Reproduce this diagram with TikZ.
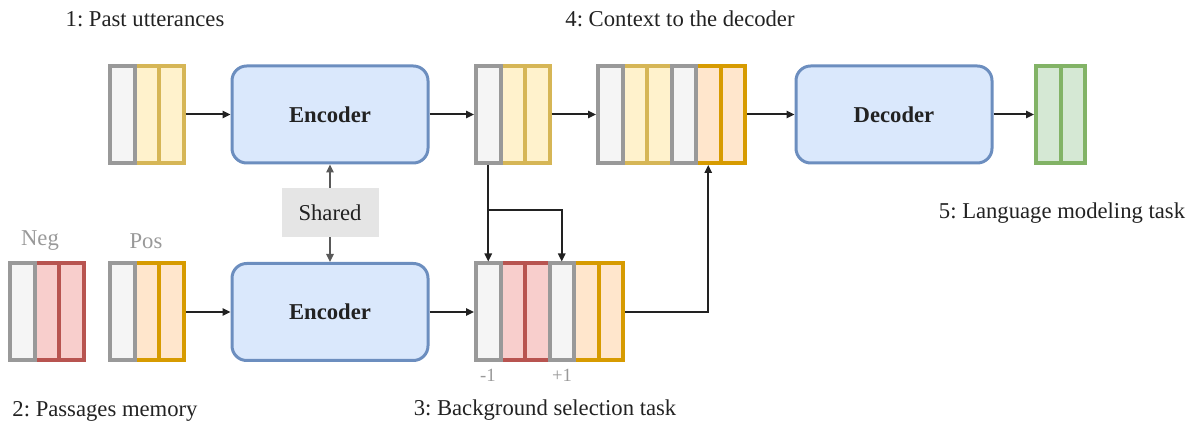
\documentclass[tikz,border=0pt]{standalone}
\usepackage{xcolor}
\usepackage{fontspec}
\setmainfont{Liberation Serif}
\usepackage{tikz}
\usetikzlibrary{arrows.meta,positioning,calc}
\definecolor{grayline}{RGB}{153,153,153}
\definecolor{grayfill}{RGB}{245,245,245}
\definecolor{yellowline}{RGB}{214,182,86}
\definecolor{yellowfill}{RGB}{255,242,204}
\definecolor{orangeline}{RGB}{215,155,0}
\definecolor{orangefill}{RGB}{255,230,204}
\definecolor{redline}{RGB}{184,84,80}
\definecolor{redfill}{RGB}{248,206,204}
\definecolor{greenline}{RGB}{130,179,102}
\definecolor{greenfill}{RGB}{213,232,212}
\definecolor{blueline}{RGB}{108,142,191}
\definecolor{bluefill}{RGB}{218,232,252}
\definecolor{textdark}{RGB}{34,34,34}
\definecolor{textlight}{RGB}{153,153,153}
\frenchspacing

\begin{document}
\begin{tikzpicture}[x=0.75pt, y=-0.75pt,
    font=\fontsize{17pt}{20pt}\selectfont, text=textdark,
    cell/.style={draw=#1line, fill=#1fill, line width=3pt, inner sep=0pt,
                 minimum width=18.375pt, minimum height=72.75pt},
    coder/.style={draw=blueline, fill=bluefill, line width=2.25pt,
                  rounded corners=11pt, minimum width=147pt,
                  minimum height=72.75pt, font=\fontsize{17pt}{20pt}\selectfont\bfseries},
    shared/.style={fill=black!10, minimum width=72.75pt, minimum height=36.75pt},
    arr/.style={draw=textdark, line width=1.5pt, -{Triangle[length=6pt,width=5.5pt]}},
    sharr/.style={draw=black!65, line width=1.2pt, -{Triangle[length=6pt,width=5.5pt]}},
    tag/.style={text=textlight},
    idx/.style={text=textlight, font=\fontsize{14pt}{16pt}\selectfont}]
  \useasboundingbox (0,0) rectangle (1192,423);

  % Top row cells (gray ones last so their borders stay on top)
  \foreach \i/\c in {2/yellow,3/yellow,1/gray}
    \node[cell=\c] (pu\i) at ({97.75+24.5*\i}, 114.5) {};
  \foreach \i/\c in {2/yellow,3/yellow,1/gray}
    \node[cell=\c] (eo\i) at ({463.75+24.5*\i}, 114.5) {};
  \foreach \i/\c in {2/yellow,3/yellow,5/orange,6/orange,1/gray,4/gray}
    \node[cell=\c] (cx\i) at ({585.75+24.5*\i}, 114.5) {};
  \foreach \i/\c in {1/green,2/green}
    \node[cell=\c] (lm\i) at ({1023.75+24.5*\i}, 114.5) {};

  % Bottom row cells
  \foreach \i/\c in {2/red,3/red,1/gray}
    \node[cell=\c] (neg\i) at ({-2.25+24.5*\i}, 312) {};
  \foreach \i/\c in {2/orange,3/orange,1/gray}
    \node[cell=\c] (pos\i) at ({97.75+24.5*\i}, 312) {};
  \foreach \i/\c in {2/red,3/red,5/orange,6/orange,1/gray,4/gray}
    \node[cell=\c] (bg\i) at ({463.75+24.5*\i}, 312) {};

  % Encoders and decoder
  \node[coder] (encA) at (330, 114.5) {Encoder};
  \node[coder] (encB) at (330, 312) {Encoder};
  \node[coder] (dec) at (894, 114.5) {Decoder};
  \node[shared] (shr) at (330, 212.5) {Shared};

  % Data flow
  \draw[arr] (pu3) -- (encA);
  \draw[arr] (encA) -- (eo1);
  \draw[arr] (eo3) -- (cx1);
  \draw[arr] (cx6) -- (dec);
  \draw[arr] (dec) -- (lm1);
  \draw[arr] (pos3) -- (encB);
  \draw[arr] (encB) -- (bg1);
  \draw[arr] (eo1) -- (bg1);
  \coordinate (split) at (488.5, 210);
  \draw[arr] (split) -| (bg4);
  \draw[arr] (bg6) -| (cx5);
  \draw[sharr] (shr) -- (encA);
  \draw[sharr] (shr) -- (encB);

  % Labels
  \node (t1) at (145, 19) {1: Past utterances};
  \node (t2) at (105, 411) {2: Passages memory};
  \node (t3) at (545, 410) {3: Background selection task};
  \node (t4) at (680, 19) {4: Context to the decoder};
  \node (t5) at (1062, 213) {5: Language modeling task};
  \node[tag] (tneg) at (40, 241) {Neg};
  \node[tag] (tpos) at (146, 241) {Pos};
  \node[idx] (im1) at (488, 375) {-1};
  \node[idx] (ip1) at (562, 375) {+1};
\end{tikzpicture}
\end{document}
